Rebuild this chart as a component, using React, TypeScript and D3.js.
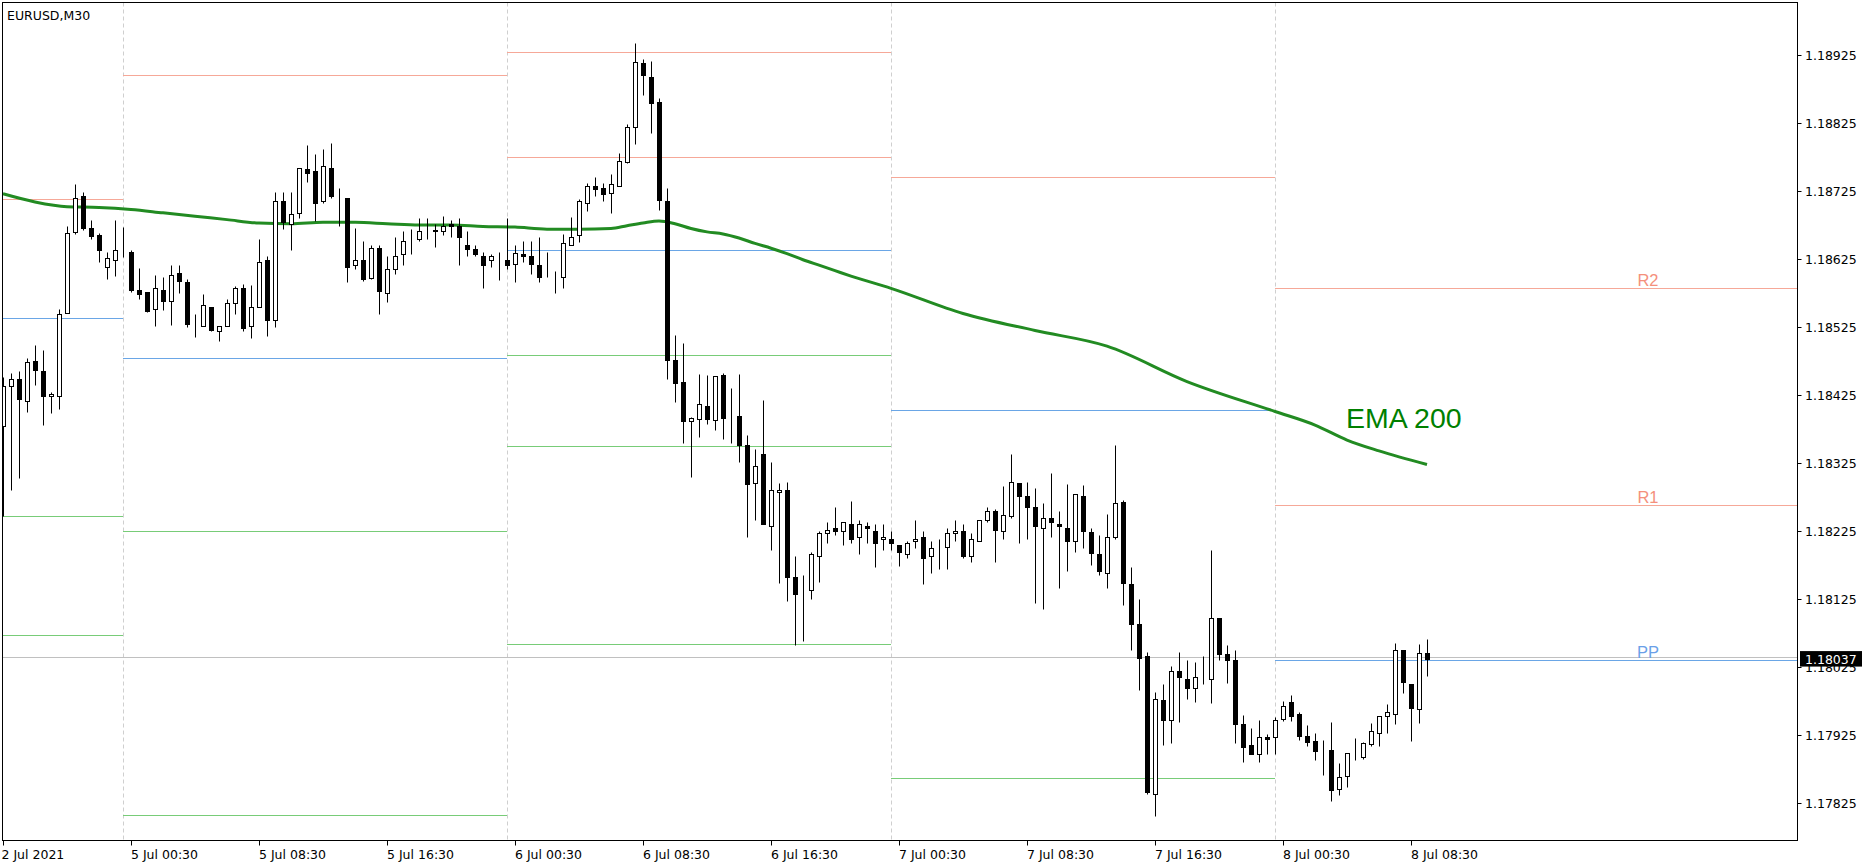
import React from 'react';
import * as d3 from 'd3';

const W = 1870;
const H = 867;

// visible 30-minute bars (weekend gap removed)
const sessionRanges: [string, string][] = [
  ['2021-07-02T16:30', '2021-07-03T00:00'],
  ['2021-07-05T00:00', '2021-07-06T00:00'],
  ['2021-07-06T00:00', '2021-07-07T00:00'],
  ['2021-07-07T00:00', '2021-07-08T00:00'],
  ['2021-07-08T00:00', '2021-07-08T10:00'],
];

// open, high, low, close
const ohlc: [number, number, number, number][] = [
  [1.18379, 1.18452, 1.18248, 1.18439], [1.18438, 1.18458, 1.18285, 1.18449], [1.18448, 1.1846, 1.18303, 1.1842],
  [1.18417, 1.18479, 1.184, 1.18473], [1.18475, 1.18498, 1.1844, 1.18462], [1.1846, 1.18492, 1.18381, 1.18424],
  [1.18423, 1.18429, 1.18399, 1.18426], [1.18424, 1.18551, 1.18405, 1.18545], [1.18546, 1.18673, 1.18546, 1.18664],
  [1.18665, 1.18735, 1.18662, 1.18715], [1.18717, 1.18723, 1.18668, 1.18671], [1.1867, 1.18682, 1.18655, 1.18659],
  [1.1866, 1.18664, 1.1862, 1.18639], [1.18613, 1.18635, 1.18595, 1.18626], [1.18624, 1.18682, 1.186, 1.18638],
  [1.18636, 1.18672, 1.18628, 1.18636], [1.18635, 1.18639, 1.18577, 1.18579], [1.18579, 1.18612, 1.18567, 1.18574],
  [1.18576, 1.18576, 1.18547, 1.18549], [1.18551, 1.18602, 1.18527, 1.18582], [1.1858, 1.18598, 1.1855, 1.18564],
  [1.18563, 1.18617, 1.18528, 1.18602], [1.18604, 1.18616, 1.18575, 1.18593], [1.18592, 1.18595, 1.18525, 1.18529],
  [1.18527, 1.18544, 1.18511, 1.18527], [1.18526, 1.18573, 1.18526, 1.18557], [1.18555, 1.18555, 1.18519, 1.18521],
  [1.1852, 1.18526, 1.18505, 1.18526], [1.18526, 1.18567, 1.18526, 1.18561], [1.1856, 1.18585, 1.18544, 1.18582],
  [1.18582, 1.18588, 1.18519, 1.18524], [1.18526, 1.18587, 1.18509, 1.18555], [1.18554, 1.18655, 1.18554, 1.1862],
  [1.18623, 1.18629, 1.18512, 1.18535], [1.18536, 1.18723, 1.18525, 1.1871], [1.1871, 1.18723, 1.18669, 1.18679],
  [1.18677, 1.18723, 1.18639, 1.18692], [1.18693, 1.18759, 1.18686, 1.18759], [1.18758, 1.18792, 1.18739, 1.18752],
  [1.18754, 1.1878, 1.18681, 1.18708], [1.1871, 1.18787, 1.18707, 1.18762], [1.18759, 1.18796, 1.18715, 1.18717],
  [1.18718, 1.18729, 1.18674, 1.18718], [1.18715, 1.18715, 1.18592, 1.18614], [1.18616, 1.18671, 1.1861, 1.18623],
  [1.18624, 1.18651, 1.18593, 1.18595], [1.18597, 1.18645, 1.18596, 1.18642], [1.18641, 1.18645, 1.18545, 1.18578],
  [1.18575, 1.1863, 1.18562, 1.1861], [1.1861, 1.18657, 1.18603, 1.1863], [1.18632, 1.18666, 1.18617, 1.18652],
  [1.18654, 1.18669, 1.18633, 1.18654], [1.18654, 1.18685, 1.18651, 1.18667], [1.18666, 1.18686, 1.18654, 1.18666],
  [1.18667, 1.18676, 1.18643, 1.18668], [1.18666, 1.18689, 1.1866, 1.18673], [1.18676, 1.18682, 1.18657, 1.18674],
  [1.18673, 1.18686, 1.18617, 1.18657], [1.18645, 1.18666, 1.1863, 1.1864], [1.1864, 1.18645, 1.18629, 1.18632],
  [1.1863, 1.18635, 1.18583, 1.18617], [1.18623, 1.18632, 1.18614, 1.1863], [1.18624, 1.18635, 1.18594, 1.18624],
  [1.18624, 1.18685, 1.1861, 1.18617], [1.18618, 1.18645, 1.18591, 1.18634], [1.18633, 1.18651, 1.1862, 1.18629],
  [1.1863, 1.18651, 1.18603, 1.18618], [1.18617, 1.18657, 1.18591, 1.18598], [1.18599, 1.18635, 1.18599, 1.18599],
  [1.18599, 1.18607, 1.18575, 1.18599], [1.18598, 1.18662, 1.18583, 1.18648], [1.18646, 1.18687, 1.18646, 1.18658],
  [1.1866, 1.18713, 1.1865, 1.1871], [1.18707, 1.18737, 1.18695, 1.18732], [1.18732, 1.18746, 1.18718, 1.18728],
  [1.18729, 1.18737, 1.1871, 1.1872], [1.18722, 1.1875, 1.18693, 1.18735], [1.18732, 1.18781, 1.18732, 1.18769],
  [1.18767, 1.18823, 1.18766, 1.18819], [1.18819, 1.18943, 1.18794, 1.18914], [1.18913, 1.18919, 1.18866, 1.18895],
  [1.18892, 1.18916, 1.1881, 1.18854], [1.18856, 1.18862, 1.18697, 1.18712], [1.1871, 1.18729, 1.18448, 1.18476],
  [1.18476, 1.18513, 1.18415, 1.18443], [1.18444, 1.18501, 1.18354, 1.18387], [1.18387, 1.18393, 1.18305, 1.18391],
  [1.1839, 1.18456, 1.18364, 1.18412], [1.18409, 1.18455, 1.18382, 1.1839], [1.18389, 1.18453, 1.18374, 1.18453],
  [1.18454, 1.18457, 1.18361, 1.18392], [1.18396, 1.18435, 1.18354, 1.18396], [1.18395, 1.18456, 1.18326, 1.18352],
  [1.18351, 1.18367, 1.18217, 1.18295], [1.18296, 1.18346, 1.18241, 1.18321], [1.18339, 1.18418, 1.18235, 1.18235],
  [1.18232, 1.18326, 1.18198, 1.18286], [1.18282, 1.18296, 1.18149, 1.18286], [1.18286, 1.18298, 1.18123, 1.18158],
  [1.18157, 1.18188, 1.18057, 1.18132], [1.18134, 1.1816, 1.18064, 1.18134], [1.18138, 1.18194, 1.18125, 1.18192],
  [1.18189, 1.18226, 1.1815, 1.18223], [1.18222, 1.18238, 1.18208, 1.18227], [1.18229, 1.1826, 1.18219, 1.18226],
  [1.18226, 1.18238, 1.18204, 1.18238], [1.18236, 1.1827, 1.18208, 1.18213], [1.18217, 1.18242, 1.18192, 1.18235],
  [1.18233, 1.18239, 1.18207, 1.18229], [1.18226, 1.18235, 1.18173, 1.18208], [1.18213, 1.18235, 1.18197, 1.18217],
  [1.18214, 1.18226, 1.18197, 1.18207], [1.18205, 1.18205, 1.18174, 1.18194], [1.18191, 1.1821, 1.18186, 1.18207],
  [1.18211, 1.18242, 1.18201, 1.18214], [1.18216, 1.18226, 1.18148, 1.18186], [1.18188, 1.18211, 1.18164, 1.18201],
  [1.182, 1.18214, 1.18169, 1.182], [1.18202, 1.18229, 1.1817, 1.18222], [1.18223, 1.18242, 1.18211, 1.18226],
  [1.18226, 1.18235, 1.18185, 1.18189], [1.18189, 1.18222, 1.18179, 1.18214], [1.18211, 1.18241, 1.18211, 1.18241],
  [1.18242, 1.18261, 1.18238, 1.18255], [1.18254, 1.18257, 1.18179, 1.18227], [1.18226, 1.18292, 1.18214, 1.18249],
  [1.18248, 1.18339, 1.18245, 1.18298], [1.18296, 1.18296, 1.18208, 1.18276], [1.18276, 1.18298, 1.18214, 1.1826],
  [1.18261, 1.18289, 1.1812, 1.18233], [1.1823, 1.18266, 1.18111, 1.18245], [1.18245, 1.18311, 1.18217, 1.18238],
  [1.18236, 1.18254, 1.18141, 1.18232], [1.18229, 1.18295, 1.18166, 1.18211], [1.18211, 1.1828, 1.18195, 1.18279],
  [1.18277, 1.18293, 1.18201, 1.18226], [1.18224, 1.1823, 1.18176, 1.18193], [1.18192, 1.1822, 1.1816, 1.18166],
  [1.18164, 1.18251, 1.18142, 1.18217], [1.18217, 1.18351, 1.18213, 1.18267], [1.18268, 1.18271, 1.18116, 1.18149],
  [1.18148, 1.18173, 1.18051, 1.18089], [1.18089, 1.18126, 1.17992, 1.18039], [1.18041, 1.18048, 1.17839, 1.17842],
  [1.17839, 1.17988, 1.17807, 1.17979], [1.17977, 1.18001, 1.1791, 1.17948], [1.17947, 1.18027, 1.17914, 1.1802],
  [1.1802, 1.18048, 1.17944, 1.1801], [1.18008, 1.18036, 1.17979, 1.17994], [1.17995, 1.18033, 1.17974, 1.1801],
  [1.1801, 1.18042, 1.18001, 1.1801], [1.18008, 1.18198, 1.17972, 1.18098], [1.18097, 1.18097, 1.18035, 1.18045],
  [1.18044, 1.18058, 1.18002, 1.18036], [1.18036, 1.18051, 1.17913, 1.17942], [1.17941, 1.17955, 1.17886, 1.17908],
  [1.1791, 1.17936, 1.17897, 1.17898], [1.17897, 1.17948, 1.17885, 1.17923], [1.17923, 1.17927, 1.17898, 1.1792],
  [1.17922, 1.17952, 1.17897, 1.17947], [1.17949, 1.17975, 1.17946, 1.17968], [1.17974, 1.17984, 1.17946, 1.17953],
  [1.17956, 1.17959, 1.17918, 1.17924], [1.17924, 1.1794, 1.17909, 1.17915], [1.17916, 1.17928, 1.17888, 1.17902],
  [1.17903, 1.17918, 1.17866, 1.17903], [1.17903, 1.17944, 1.17828, 1.17844], [1.17846, 1.17884, 1.17837, 1.17863],
  [1.17865, 1.17899, 1.17849, 1.17899], [1.17896, 1.17921, 1.17888, 1.17896], [1.17893, 1.17915, 1.1789, 1.17913],
  [1.17912, 1.17943, 1.17909, 1.17931], [1.17929, 1.17954, 1.17909, 1.17954], [1.17953, 1.17971, 1.17928, 1.17959],
  [1.17956, 1.1806, 1.17941, 1.1805], [1.18051, 1.18051, 1.17987, 1.18003], [1.18001, 1.18001, 1.17916, 1.17965],
  [1.17963, 1.18059, 1.17943, 1.18046], [1.18046, 1.18066, 1.18012, 1.18037],
];

// EMA 200 read at selected bars
const emaBar = [0, 4, 8, 12, 16, 20, 24, 28, 32, 36, 40, 44, 48, 52, 56, 60, 64, 68, 72, 76, 78, 80, 82, 84, 86, 88, 90,
  92, 94, 96, 98, 100, 102, 104, 106, 111, 120, 129, 138, 148, 159, 164, 168, 172, 178];
const emaValue = [1.18721, 1.18709, 1.18702, 1.18701, 1.18698, 1.18693, 1.18688, 1.18683, 1.18678, 1.18677, 1.18679,
  1.18679, 1.18677, 1.18675, 1.18675, 1.18673, 1.18672, 1.18669, 1.18669, 1.1867, 1.18674, 1.18678, 1.18681, 1.18677,
  1.1867, 1.18665, 1.18662, 1.18656, 1.18648, 1.18641, 1.18633, 1.18624, 1.18616, 1.18608, 1.186, 1.18582, 1.18545,
  1.1852, 1.18497, 1.18445, 1.18401, 1.18381, 1.18359, 1.18343, 1.18323];

// daily pivot levels
const pivotDays = ['2021-07-02', '2021-07-05', '2021-07-06', '2021-07-07', '2021-07-08'];
const resistance = [[1.18714], [1.18896], [1.1893, 1.18775], [1.18746], [1.18582, 1.18263]];
const pivotPP = [1.18539, 1.18479, 1.18639, 1.18403, 1.18035];
const support = [[1.18247, 1.18073], [1.18225, 1.17808], [1.18484, 1.1835, 1.18059], [1.17862], []];
const lastDayLabels = [
  { value: 1.18582, text: 'R2', kind: 'r' },
  { value: 1.18263, text: 'R1', kind: 'r' },
  { value: 1.18035, text: 'PP', kind: 'p' },
];

const yTicks = [1.17825, 1.17925, 1.18025, 1.18125, 1.18225, 1.18325, 1.18425, 1.18525, 1.18625, 1.18725, 1.18825, 1.18925];
const xTickTimes = ['2021-07-02T16:30', '2021-07-05T00:30', '2021-07-05T08:30', '2021-07-05T16:30', '2021-07-06T00:30',
  '2021-07-06T08:30', '2021-07-06T16:30', '2021-07-07T00:30', '2021-07-07T08:30', '2021-07-07T16:30',
  '2021-07-08T00:30', '2021-07-08T08:30'];

const RED = '#F6A898';
const BLUE = '#6AA6E6';
const GREEN = '#78CC78';
const AXIS_FONT = 'DejaVu Sans, Tahoma, sans-serif';

const App: React.FC = () => {
  const times = sessionRanges.flatMap(([a, b]) => d3.timeMinute.every(30)!.range(new Date(a), new Date(b)));
  const keys = times.map((t) => t.getTime());

  const left = 2.5;
  const right = 1797.5;
  const top = 2.5;
  const bottom = 840.5;

  const x = d3.scaleBand<number>().domain(keys).range([-1, -1 + keys.length * 8]);
  const cx = (i: number) => x(keys[i])! + x.bandwidth() / 2;
  const y = d3.scaleLinear().domain([1.17825, 1.18925]).range([803.3, 55]);
  const py = (v: number) => Math.round(y(v)) + 0.5;

  const fmtFirst = d3.timeFormat('%-d %b %Y');
  const fmt = d3.timeFormat('%-d %b %H:%M');

  // first bar index of each day
  const dayStart = pivotDays.map((d) => times.findIndex((t) => d3.timeFormat('%Y-%m-%d')(t) === d));
  const segX = pivotDays.map((_, k) => {
    const x0 = k === 0 ? left : cx(dayStart[k]);
    const x1 = k === pivotDays.length - 1 ? right : cx(dayStart[k + 1]);
    return [x0, x1];
  });

  const emaLine = d3
    .line<number>()
    .x((_, k) => cx(emaBar[k]))
    .y((v) => y(v))
    .curve(d3.curveMonotoneX);

  const last = ohlc[ohlc.length - 1][3];

  return (
    <svg width={W} height={H} style={{ position: 'fixed', left: 0, top: 0, background: '#fff' }}>
      <defs>
        <clipPath id="plot">
          <rect x={left} y={top} width={right - left} height={bottom - top} />
        </clipPath>
      </defs>
      <rect width={W} height={H} fill="#fff" />

      <g clipPath="url(#plot)">
        {/* day separators */}
        {dayStart.slice(1).map((i) => (
          <line key={i} x1={cx(i) + 0.5} x2={cx(i) + 0.5} y1={top} y2={bottom} stroke="#cfcfcf" strokeDasharray="4,3" />
        ))}

        {/* pivot levels */}
        {pivotDays.map((d, k) => (
          <g key={d}>
            {resistance[k].map((v) => (
              <line key={'r' + v} x1={segX[k][0]} x2={segX[k][1]} y1={py(v)} y2={py(v)} stroke={RED} />
            ))}
            <line x1={segX[k][0]} x2={segX[k][1]} y1={py(pivotPP[k])} y2={py(pivotPP[k])} stroke={BLUE} />
            {support[k].map((v) => (
              <line key={'s' + v} x1={segX[k][0]} x2={segX[k][1]} y1={py(v)} y2={py(v)} stroke={GREEN} />
            ))}
          </g>
        ))}

        {/* bid line */}
        <line x1={left} x2={right} y1={py(last) - 2} y2={py(last) - 2} stroke="#c0c0c0" />

        {/* EMA 200 */}
        <path d={emaLine(emaValue)!} fill="none" stroke="#228B22" strokeWidth={3} />

        {/* candles */}
        {ohlc.map(([o, h, l, c], i) => {
          const xc = cx(i);
          const yTop = py(Math.max(o, c));
          const yBot = py(Math.min(o, c));
          return (
            <g key={i}>
              <line x1={xc + 0.5} x2={xc + 0.5} y1={py(h)} y2={py(l)} stroke="#000" />
              <rect x={xc - 1.5} y={yTop} width={4} height={yBot - yTop} fill={c > o ? '#fff' : '#000'} stroke="#000" />
            </g>
          );
        })}

        {/* labels */}
        {lastDayLabels.map((d) => (
          <text
            key={d.text}
            x={1648}
            y={py(d.value) - 3}
            textAnchor="middle"
            fontFamily="Liberation Sans, Arial, sans-serif"
            fontSize={16.5}
            fill={d.kind === 'r' ? '#F4907C' : '#6A9FE8'}
          >
            {d.text}
          </text>
        ))}
        <text x={1346} y={428} fontFamily="Liberation Sans, Arial, sans-serif" fontSize={28.5} fill="#008000">
          EMA 200
        </text>
      </g>

      {/* frame */}
      <rect x={left} y={top} width={right - left} height={bottom - top} fill="none" stroke="#000" />

      <text x={7} y={20} fontFamily={AXIS_FONT} fontSize={12.5} fill="#000">
        EURUSD,M30
      </text>

      {/* price axis */}
      {yTicks.map((v) => (
        <g key={v}>
          <line x1={right} x2={right + 4} y1={py(v)} y2={py(v)} stroke="#000" />
          <text x={1805} y={y(v) + 4.6} fontFamily={AXIS_FONT} fontSize={12.5} fill="#000">
            {v.toFixed(5)}
          </text>
        </g>
      ))}
      <rect x={1800} y={y(last) - 8} width={62} height={15.5} fill="#000" />
      <text x={1805} y={y(last) + 4.6} fontFamily={AXIS_FONT} fontSize={12.5} fill="#fff">
        {last.toFixed(5)}
      </text>

      {/* time axis */}
      {xTickTimes.map((s, k) => {
        const t = new Date(s).getTime();
        const i = keys.indexOf(t);
        const xc = cx(i);
        return (
          <g key={s}>
            <line x1={xc + 0.5} x2={xc + 0.5} y1={bottom} y2={bottom + 5} stroke="#000" />
            <text x={k === 0 ? 1.5 : xc} y={858.5} fontFamily={AXIS_FONT} fontSize={12.5} fill="#000">
              {k === 0 ? fmtFirst(new Date(s)) : fmt(new Date(s))}
            </text>
          </g>
        );
      })}
    </svg>
  );
};

export default App;
